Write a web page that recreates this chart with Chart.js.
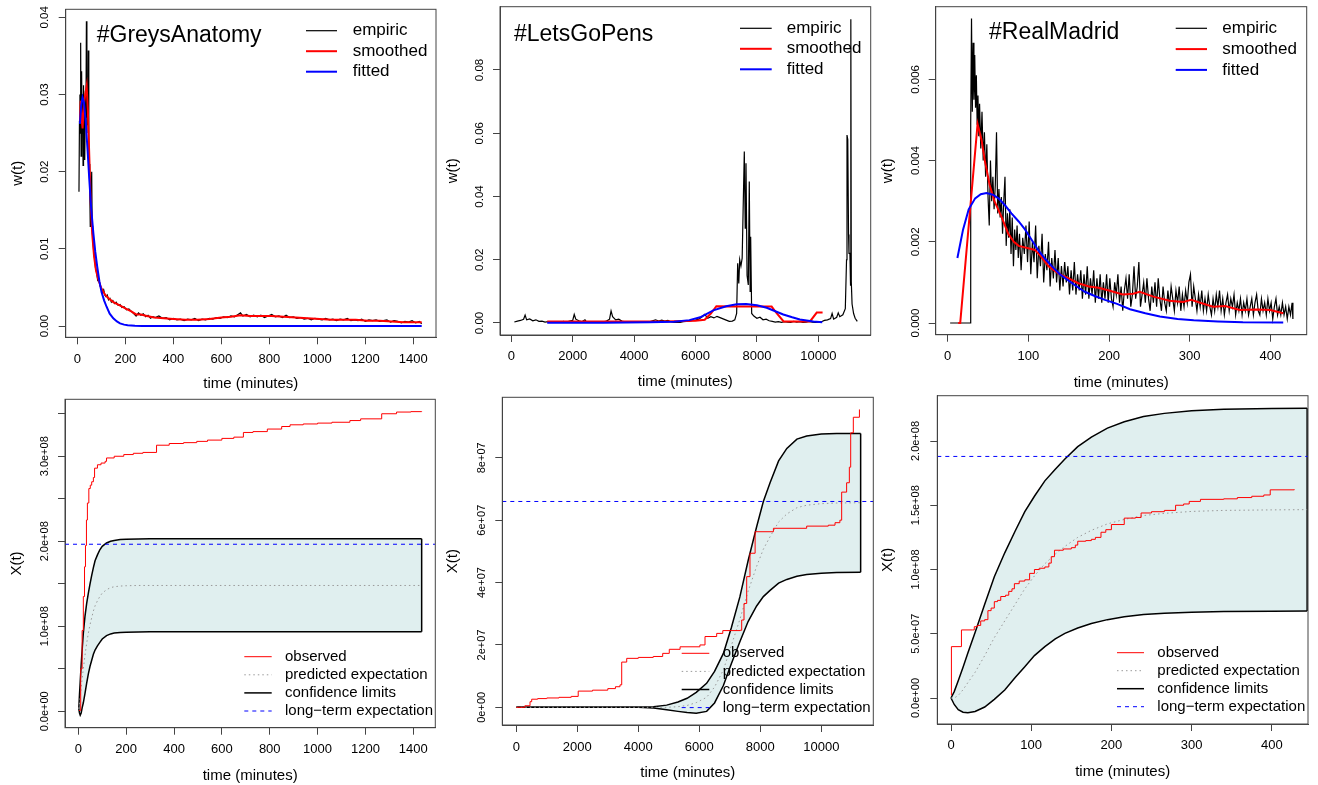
<!DOCTYPE html>
<html>
<head>
<meta charset="utf-8">
<script src="https://cdn.jsdelivr.net/npm/chart.js@4.4.1/dist/chart.umd.min.js"></script>
<style>
  body { margin: 0; background: #fff; }
  #wrap { position: relative; width: 1318px; height: 785px; overflow: hidden; }
  #wrap canvas { position: absolute; }
</style>
</head>
<body>
<div id="wrap">
  <canvas id="c1" width="440" height="392" style="left:0px;top:0px"></canvas>
  <canvas id="c2" width="438" height="392" style="left:440px;top:0px"></canvas>
  <canvas id="c3" width="440" height="392" style="left:878px;top:0px"></canvas>
  <canvas id="c4" width="440" height="395" style="left:0px;top:390px"></canvas>
  <canvas id="c5" width="438" height="395" style="left:440px;top:390px"></canvas>
  <canvas id="c6" width="440" height="395" style="left:878px;top:390px"></canvas>
</div>
<script>
// ---- data: [time (minutes), value] ----

// #GreysAnatomy, w(t)
const greysEmpiric = [[7,0.0174],[9,0.0265],[11,0.0300],[13,0.0250],[14,0.0367],[16,0.0220],[18,0.0330],[20,0.0260],[22,0.0300],[24,0.0208],[26,0.0312],[28,0.0245],[30,0.0290],[32,0.0215],[34,0.0305],[36,0.0270],[38,0.0395],[40,0.0250],[42,0.0300],[44,0.0260],[46,0.0357],[48,0.0240],[50,0.0210],[52,0.0175],[54,0.0129],[57,0.0140],[60,0.0200],[62,0.0130],[64,0.0115],[68,0.0098],[72,0.0088],[76,0.0075],[80,0.0070],[85,0.0059],[90,0.0060],[95,0.0052],[100,0.0050],[105,0.0044],[110,0.0047],[115,0.0040],[120,0.0038],[125,0.0040],[130,0.0034],[136,0.0036],[142,0.0031],[148,0.0033],[155,0.0029],[162,0.0031],[170,0.0027],[178,0.0028],[186,0.0024],[195,0.0025],[205,0.0021],[215,0.0022],[225,0.0019],[235,0.0016],[245,0.0013],[255,0.0017],[265,0.0014],[275,0.0016],[285,0.0012],[295,0.0014],[305,0.0010],[315,0.0012],[325,0.0011],[340,0.0013],[355,0.0010],[370,0.0011],[385,0.0008],[400,0.0010],[415,0.0008],[430,0.0009],[445,0.0007],[460,0.0009],[475,0.0008],[490,0.0010],[505,0.0007],[520,0.0009],[535,0.0008],[550,0.0010],[565,0.0009],[580,0.0011],[595,0.0010],[610,0.0012],[625,0.0011],[640,0.0013],[655,0.0012],[670,0.0015],[680,0.0017],[690,0.0013],[705,0.0015],[720,0.0012],[735,0.0014],[750,0.0012],[765,0.0014],[780,0.0011],[795,0.0013],[810,0.0015],[825,0.0012],[840,0.0013],[855,0.0011],[870,0.0014],[885,0.0011],[900,0.0012],[915,0.0010],[930,0.0011],[945,0.0009],[960,0.0010],[975,0.0008],[990,0.0010],[1005,0.0009],[1020,0.0008],[1035,0.0010],[1050,0.0008],[1065,0.0009],[1080,0.0007],[1095,0.0009],[1110,0.0008],[1125,0.0010],[1140,0.0007],[1155,0.0008],[1170,0.0007],[1185,0.0009],[1200,0.0006],[1215,0.0008],[1230,0.0007],[1245,0.0008],[1260,0.0006],[1275,0.0007],[1290,0.0008],[1305,0.0005],[1320,0.0007],[1335,0.0006],[1350,0.0004],[1365,0.0006],[1380,0.0005],[1395,0.0007],[1410,0.0004],[1425,0.0006],[1435,0.0003]];
const greysSmoothed = [[11,0.0265],[14,0.0292],[18,0.0270],[22,0.0256],[27,0.0285],[33,0.0300],[39,0.0311],[44,0.0280],[50,0.0220],[56,0.0160],[62,0.0120],[70,0.0090],[78,0.0072],[88,0.0060],[100,0.0049],[115,0.0041],[130,0.0036],[150,0.0031],[175,0.0027],[200,0.0023],[225,0.0019],[245,0.0015],[265,0.0015],[290,0.0013],[320,0.0011],[360,0.0010],[400,0.0009],[450,0.0008],[500,0.0008],[550,0.0009],[600,0.0011],[640,0.0012],[680,0.0014],[720,0.0013],[760,0.0013],[810,0.0013],[860,0.0012],[910,0.0011],[960,0.0010],[1010,0.0009],[1060,0.0008],[1110,0.0008],[1160,0.0008],[1210,0.0007],[1260,0.0007],[1310,0.0006],[1360,0.0005],[1400,0.0005],[1435,0.0005]];
const greysFitted = [[11,0.0262],[16,0.0285],[22,0.0296],[28,0.0290],[35,0.0265],[42,0.0232],[50,0.0190],[58,0.0152],[67,0.0120],[75,0.0096],[83,0.0077],[92,0.0058],[101,0.0044],[112,0.0033],[122,0.0025],[135,0.0016],[150,0.0010],[165,0.0006],[178,0.00035],[195,0.00018],[210,0.0001],[240,0.00003],[270,0.00001],[1435,0]];

// #LetsGoPens, w(t)
const pensEmpiric = [[100,0.0003],[200,0.0006],[300,0.0008],[400,0.0012],[450,0.0025],[500,0.0010],[600,0.0013],[700,0.0007],[800,0.0010],[900,0.0005],[1000,0.0006],[1100,0.0003],[1200,0.0004],[1300,0.0002],[1400,0.0003],[1500,0.0004],[1600,0.0002],[1700,0.0005],[1800,0.0003],[1900,0.0006],[2000,0.0008],[2050,0.0027],[2100,0.0012],[2200,0.0007],[2300,0.0004],[2400,0.0010],[2450,0.0003],[2550,0.0002],[2700,0.0003],[2850,0.0002],[3000,0.0004],[3100,0.0006],[3200,0.0012],[3250,0.0038],[3300,0.0020],[3400,0.0010],[3500,0.0012],[3600,0.0006],[3700,0.0004],[3800,0.0003],[3900,0.0004],[4000,0.0002],[4100,0.0003],[4200,0.0002],[4300,0.0004],[4400,0.0003],[4500,0.0004],[4600,0.0007],[4700,0.0010],[4800,0.0006],[4900,0.0009],[5000,0.0006],[5100,0.0008],[5200,0.0004],[5300,0.0002],[5400,0.0003],[5500,0.0002],[5600,0.0004],[5700,0.0005],[5800,0.0006],[5900,0.0008],[6000,0.0009],[6100,0.0012],[6200,0.0018],[6300,0.0027],[6400,0.0015],[6500,0.0020],[6600,0.0016],[6700,0.0021],[6800,0.0017],[6900,0.0013],[7000,0.0009],[7100,0.0005],[7200,0.0006],[7280,0.0010],[7340,0.0030],[7374,0.0189],[7410,0.0125],[7440,0.0200],[7480,0.0180],[7520,0.0205],[7550,0.0350],[7590,0.0542],[7620,0.0300],[7645,0.0505],[7680,0.0150],[7720,0.0120],[7752,0.0447],[7780,0.0100],[7797,0.0273],[7830,0.0030],[7900,0.0022],[8000,0.0015],[8100,0.0018],[8200,0.0010],[8300,0.0012],[8400,0.0007],[8500,0.0005],[8600,0.0003],[8700,0.0004],[8800,0.0002],[8900,0.0004],[9000,0.0003],[9100,0.0002],[9200,0.0005],[9300,0.0003],[9400,0.0004],[9500,0.0002],[9600,0.0003],[9700,0.0005],[9800,0.0003],[9900,0.0002],[10000,0.0003],[10100,0.0004],[10200,0.0008],[10300,0.0010],[10400,0.0014],[10450,0.0030],[10500,0.0012],[10600,0.0018],[10650,0.0032],[10700,0.0020],[10800,0.0026],[10880,0.0045],[10920,0.0200],[10935,0.0594],[10960,0.0580],[10985,0.0280],[11000,0.0220],[11030,0.0220],[11050,0.0120],[11060,0.0960],[11075,0.0130],[11100,0.0060],[11150,0.0030],[11200,0.0015],[11270,0.0005]];
const pensSmoothed = [[1170,0.0005],[3000,0.0005],[5000,0.0005],[6000,0.0007],[6300,0.0010],[6500,0.0030],[6680,0.0053],[7500,0.0052],[8480,0.0052],[8650,0.0030],[8870,0.0005],[9730,0.0005],[9950,0.0033],[10140,0.0033]];
const pensFitted = [[1170,0.0001],[3000,0.0001],[4500,0.0002],[5300,0.0004],[5800,0.0009],[6150,0.0018],[6580,0.0040],[7000,0.0053],[7340,0.0059],[7650,0.0060],[8000,0.0056],[8320,0.0048],[8600,0.0037],[8860,0.0027],[9150,0.0018],[9400,0.0011],[9840,0.0005],[10130,0.0002]];

// #RealMadrid, w(t)
const madridEmpiric = [[3,0],[28,0],[28.5,0.0049],[29.5,0.0075],[30.5,0.0052],[31.5,0.0069],[32.5,0.0055],[33.5,0.0066],[34.5,0.0053],[35.5,0.0061],[36.5,0.0049],[37.5,0.0056],[38.5,0.0046],[39.5,0.0054],[41,0.0043],[42.5,0.0052],[44,0.0040],[45.5,0.0047],[47,0.0036],[48.5,0.0044],[50,0.0031],[51.5,0.0024],[53,0.0040],[54.5,0.0030],[56,0.0036],[57.5,0.0028],[59,0.0034],[60.5,0.0047],[62,0.0027],[63.5,0.0033],[65,0.0026],[66.5,0.0031],[68,0.0022],[69.5,0.0030],[71,0.0036],[72.5,0.0019],[74,0.0027],[75.5,0.0021],[77,0.0028],[78.5,0.0017],[80,0.0026],[81.5,0.0014],[83,0.0023],[84.5,0.0018],[86,0.0024],[87.5,0.0016],[89,0.0022],[91,0.0013],[93,0.0021],[95,0.0017],[97,0.0024],[99,0.0015],[101,0.0025],[103,0.0012],[105,0.0020],[107,0.0015],[109,0.0024],[111,0.0011],[113,0.0019],[115,0.0014],[117,0.0022],[119,0.0010],[121,0.0017],[123,0.0013],[125,0.0020],[127,0.0009],[129,0.0016],[131,0.0011],[133,0.0018],[135,0.0010],[137,0.0016],[139,0.0008],[141,0.0014],[143,0.0009],[145,0.0015],[147,0.0010],[149,0.0014],[151,0.0007],[153,0.0013],[155,0.0008],[157,0.0015],[159,0.0007],[161,0.0012],[163,0.0008],[165,0.0013],[167,0.0006],[169,0.0012],[171,0.0007],[173,0.0014],[175,0.0006],[177,0.0011],[179,0.0007],[181,0.0013],[183,0.0005],[185,0.0011],[187,0.0006],[189,0.0012],[191,0.0005],[193,0.0010],[195,0.0006],[197,0.0012],[199,0.0005],[201,0.0011],[203,0.0006],[205,0.0004],[207,0.0010],[209,0.0007],[211,0.0012],[213,0.0005],[215,0.0009],[217,0.0003],[219,0.0008],[221,0.0011],[223,0.0006],[225,0.0012],[227,0.0004],[229,0.0007],[231,0.0014],[233,0.0006],[235,0.0009],[237,0.0015],[239,0.0004],[241,0.0007],[243,0.0010],[245,0.0005],[247,0.0011],[249,0.0006],[251,0.0003],[253,0.0009],[255,0.0005],[257,0.0010],[259,0.0004],[261,0.0011],[263,0.0006],[265,0.0003],[267,0.0009],[269,0.0005],[271,0.0003],[273,0.0008],[275,0.0004],[277,0.0009],[279,0.0006],[281,0.0003],[283,0.0008],[285,0.0005],[287,0.0009],[289,0.0003],[291,0.0007],[293,0.0004],[295,0.0008],[297,0.0005],[299,0.0010],[301,0.0012],[303,0.0004],[305,0.0009],[307,0.0006],[309,0.0003],[311,0.0007],[313,0.0004],[315,0.0008],[317,0.0003],[319,0.0006],[321,0.0003],[323,0.0007],[325,0.0004],[327,0.0002],[329,0.0006],[331,0.0003],[333,0.0007],[335,0.0004],[337,0.0008],[339,0.0003],[341,0.0006],[343,0.0002],[345,0.0005],[347,0.0007],[349,0.0003],[351,0.0006],[353,0.0004],[355,0.0007],[357,0.0002],[359,0.0005],[361,0.0003],[363,0.0006],[365,0.0002],[367,0.0005],[369,0.0003],[371,0.0006],[373,0.0002],[375,0.0004],[377,0.0006],[379,0.0002],[381,0.0005],[383,0.0007],[385,0.0003],[387,0.0002],[389,0.0006],[391,0.0003],[393,0.0005],[395,0.0002],[397,0.0006],[399,0.0003],[401,0.0005],[403,0.0001],[405,0.0004],[407,0.0006],[409,0.0002],[411,0.0004],[413,0.0002],[415,0.0005],[417,0.0002],[419,0.0004],[421,0.0001],[423,0.0004],[425,0.0002],[427,0.0005],[428,0.0001]];
const madridSmoothed = [[13,0],[15.5,0],[37,0.0049],[42,0.0045],[46,0.0040],[52,0.0034],[58,0.0030],[67,0.0026],[75,0.0022],[82,0.0020],[88,0.0019],[100,0.00184],[108,0.0018],[116,0.00163],[125,0.0014],[137,0.00122],[150,0.0011],[162,0.00098],[175,0.0009],[187,0.00087],[200,0.0008],[217,0.0007],[230,0.00072],[238,0.00077],[255,0.00065],[275,0.00055],[292,0.00052],[302,0.00057],[313,0.0005],[329,0.0004],[344,0.00042],[362,0.00032],[383,0.00033],[400,0.00032],[416,0.00024]];
const madridFitted = [[12,0.0016],[19,0.0023],[26,0.0028],[34,0.00307],[41,0.00317],[48,0.0032],[56,0.00316],[63,0.00307],[71,0.0029],[79,0.0027],[88,0.0025],[96,0.0023],[104,0.00205],[112,0.0018],[120,0.0016],[129,0.0014],[139,0.0012],[150,0.00104],[160,0.0009],[170,0.00077],[183,0.00066],[195,0.00057],[210,0.00047],[226,0.00034],[245,0.00024],[263,0.00016],[285,0.0001],[305,0.00007],[335,0.00004],[366,0.00002],[416,0.00001]];

// X(t): observed counts, model band on its own time grid, long-term expectation
const greysObserved = [[3,0.01e8],[10,0.5e8],[16,0.95e8],[21,1.35e8],[26,1.7e8],[30,1.95e8],[34,2.25e8],[38,2.45e8],[44,2.62e8],[50,2.66e8],[56,2.70e8],[63,2.75e8],[68,2.86e8],[80,2.90e8],[95,2.92e8],[112,2.94e8],[118,2.98e8],[150,3.00e8],[190,3.02e8],[230,3.035e8],[270,3.045e8],[327,3.13e8],[380,3.15e8],[440,3.16e8],[495,3.175e8],[540,3.19e8],[600,3.21e8],[650,3.225e8],[690,3.28e8],[730,3.29e8],[790,3.32e8],[850,3.35e8],[885,3.37e8],[940,3.38e8],[1000,3.39e8],[1060,3.40e8],[1135,3.42e8],[1180,3.44e8],[1268,3.50e8],[1330,3.52e8],[1390,3.525e8],[1435,3.53e8]];
const greysBandT = [2, 5, 8, 12, 16, 21, 28, 35, 42, 49, 56, 63, 70, 80, 90, 100, 118, 135, 150, 175, 200, 250, 300, 500, 800, 1100, 1435];
const greysPredicted = [0.03e8, 0.1e8, 0.17e8, 0.28e8, 0.38e8, 0.5e8, 0.66e8, 0.8e8, 0.92e8, 1.02e8, 1.1e8, 1.18e8, 1.24e8, 1.3e8, 1.35e8, 1.39e8, 1.43e8, 1.455e8, 1.465e8, 1.473e8, 1.477e8, 1.48e8, 1.48e8, 1.48e8, 1.48e8, 1.48e8, 1.48e8];
const greysUpper = [0.03e8, 0.2e8, 0.35e8, 0.55e8, 0.72e8, 0.92e8, 1.12e8, 1.27e8, 1.39e8, 1.5e8, 1.6e8, 1.69e8, 1.77e8, 1.84e8, 1.9e8, 1.94e8, 1.98e8, 2.0e8, 2.01e8, 2.02e8, 2.025e8, 2.028e8, 2.03e8, 2.03e8, 2.03e8, 2.03e8, 2.03e8];
const greysLower = [0.03e8, -0.02e8, -0.045e8, -0.02e8, 0.04e8, 0.1e8, 0.21e8, 0.33e8, 0.44e8, 0.53e8, 0.6e8, 0.67e8, 0.72e8, 0.77e8, 0.81e8, 0.85e8, 0.89e8, 0.91e8, 0.92e8, 0.927e8, 0.93e8, 0.933e8, 0.935e8, 0.937e8, 0.937e8, 0.937e8, 0.937e8];
const greysLongTerm = 1.965e8;

const pensObserved = [[0,0],[280,0.05e7],[450,0.18e7],[505,0.26e7],[700,0.28e7],[1000,0.3e7],[1400,0.32e7],[1800,0.35e7],[2030,0.52e7],[2500,0.55e7],[3000,0.6e7],[3250,0.66e7],[3400,0.72e7],[3456,1.45e7],[3620,1.57e7],[4000,1.6e7],[4490,1.63e7],[4800,1.73e7],[5016,1.86e7],[5370,1.94e7],[6020,2.0e7],[6187,2.27e7],[6570,2.37e7],[6770,2.46e7],[7340,2.47e7],[7390,2.8e7],[7466,3.33e7],[7554,4.19e7],[7662,4.94e7],[7830,5.63e7],[8430,5.74e7],[9520,5.81e7],[10230,5.84e7],[10450,5.92e7],[10610,6.0e7],[10668,6.9e7],[10830,7.2e7],[10920,7.7e7],[10964,8.8e7],[11050,9.3e7],[11250,9.55e7]];
const pensBandT = [0, 1000, 2000, 3000, 4000, 4500, 4930, 5300, 5600, 5900, 6240, 6500, 6790, 7050, 7330, 7600, 7880, 8100, 8320, 8600, 8870, 9200, 9520, 10000, 10500, 11290];
const pensPredicted = [0, 0, 0, 0, 0, 0, 0, 0.02e7, 0.06e7, 0.15e7, 0.32e7, 0.65e7, 1.2e7, 1.98e7, 2.82e7, 3.72e7, 4.52e7, 5.07e7, 5.47e7, 5.94e7, 6.2e7, 6.4e7, 6.48e7, 6.53e7, 6.55e7, 6.56e7];
const pensUpper = [0, 0, 0, 0, 0, 0.02e7, 0.07e7, 0.17e7, 0.29e7, 0.48e7, 0.77e7, 1.15e7, 1.73e7, 2.55e7, 3.54e7, 4.7e7, 5.79e7, 6.6e7, 7.2e7, 7.9e7, 8.3e7, 8.6e7, 8.7e7, 8.76e7, 8.78e7, 8.78e7];
const pensLower = [0, 0, 0, 0, 0, -0.02e7, -0.08e7, -0.13e7, -0.17e7, -0.19e7, -0.13e7, 0.14e7, 0.7e7, 1.4e7, 2.1e7, 2.75e7, 3.25e7, 3.55e7, 3.75e7, 3.98e7, 4.1e7, 4.2e7, 4.26e7, 4.3e7, 4.32e7, 4.33e7];
const pensLongTerm = 6.6e7;

const madridObserved = [[0,0.023e8],[0.5,0.4e8],[13,0.53e8],[27,0.53e8],[29,0.555e8],[33,0.565e8],[37,0.6e8],[42,0.61e8],[46,0.68e8],[50,0.70e8],[54,0.75e8],[58,0.76e8],[62,0.79e8],[68,0.8e8],[72,0.83e8],[76,0.85e8],[79,0.89e8],[85,0.91e8],[92,0.92e8],[98,0.97e8],[104,1.0e8],[110,1.01e8],[117,1.02e8],[122,1.05e8],[125,1.1e8],[129,1.15e8],[140,1.16e8],[150,1.17e8],[155,1.19e8],[158,1.22e8],[168,1.225e8],[175,1.235e8],[180,1.25e8],[187,1.29e8],[193,1.31e8],[200,1.35e8],[216,1.40e8],[230,1.405e8],[237,1.44e8],[250,1.45e8],[266,1.46e8],[280,1.50e8],[290,1.51e8],[297,1.53e8],[311,1.546e8],[340,1.55e8],[357,1.56e8],[375,1.57e8],[390,1.58e8],[398,1.62e8],[428,1.624e8]];
const madridBandT = [0, 4, 9, 15, 21, 30, 42, 54, 67, 80, 92, 104, 117, 130, 142, 158, 175, 195, 216, 240, 266, 300, 340, 400, 444];
const madridPredicted = [0, 0, 0.02e8, 0.065e8, 0.12e8, 0.2e8, 0.33e8, 0.47e8, 0.6e8, 0.73e8, 0.85e8, 0.95e8, 1.045e8, 1.12e8, 1.18e8, 1.25e8, 1.305e8, 1.355e8, 1.39e8, 1.42e8, 1.437e8, 1.452e8, 1.46e8, 1.464e8, 1.466e8];
const madridUpper = [0, 0.05e8, 0.135e8, 0.24e8, 0.35e8, 0.51e8, 0.73e8, 0.944e8, 1.13e8, 1.3e8, 1.45e8, 1.57e8, 1.69e8, 1.78e8, 1.86e8, 1.956e8, 2.03e8, 2.1e8, 2.15e8, 2.19e8, 2.215e8, 2.235e8, 2.247e8, 2.253e8, 2.255e8];
const madridLower = [0, -0.05e8, -0.09e8, -0.11e8, -0.115e8, -0.105e8, -0.07e8, -0.01e8, 0.062e8, 0.16e8, 0.244e8, 0.33e8, 0.40e8, 0.46e8, 0.503e8, 0.545e8, 0.58e8, 0.61e8, 0.633e8, 0.65e8, 0.66e8, 0.668e8, 0.673e8, 0.676e8, 0.677e8];
const madridLongTerm = 1.88e8;

// ---- axis ticks ----
const ticksGreysT = [0, 200, 400, 600, 800, 1000, 1200, 1400];
const labelsGreysT = ['0', '200', '400', '600', '800', '1000', '1200', '1400'];
const ticksPensT = [0, 2000, 4000, 6000, 8000, 10000];
const labelsPensT = ['0', '2000', '4000', '6000', '8000', '10000'];
const ticksMadridT = [0, 100, 200, 300, 400];
const labelsMadridT = ['0', '100', '200', '300', '400'];

const ticksGreysW = [0, 0.01, 0.02, 0.03, 0.04];
const labelsGreysW = ['0.00', '0.01', '0.02', '0.03', '0.04'];
const ticksPensW = [0, 0.02, 0.04, 0.06, 0.08];
const labelsPensW = ['0.00', '0.02', '0.04', '0.06', '0.08'];
const ticksMadridW = [0, 0.002, 0.004, 0.006];
const labelsMadridW = ['0.000', '0.002', '0.004', '0.006'];

const ticksGreysX = [0, 0.5e8, 1e8, 1.5e8, 2e8, 2.5e8, 3e8, 3.5e8];
const labelsGreysX = ['0.0e+00', '', '1.0e+08', '', '2.0e+08', '', '3.0e+08', ''];
const ticksPensX = [0, 2e7, 4e7, 6e7, 8e7];
const labelsPensX = ['0e+00', '2e+07', '4e+07', '6e+07', '8e+07'];
const ticksMadridX = [0, 0.5e8, 1e8, 1.5e8, 2e8];
const labelsMadridX = ['0.0e+00', '5.0e+07', '1.0e+08', '1.5e+08', '2.0e+08'];

// ---- drawing ----
const FONT = '"Liberation Sans", Arial, Helvetica, sans-serif';
const AXIS = '#444';
const TICK = 7;

const pts = arr => arr.map(p => ({x: p[0], y: p[1]}));

// padding that puts the centre of rotated y labels at a given x
function labelPad(labels, size, axisWidth, center) {
    const ctx = document.createElement('canvas').getContext('2d');
    ctx.font = size + 'px ' + FONT;
    const widest = Math.max(...labels.map(s => ctx.measureText(s).width));
    return axisWidth - TICK - widest / 2 - center;
}

function topSets(emp, smo, fit) {
    return [
        {label: 'empiric', data: pts(emp), borderColor: '#000000', borderWidth: 1.2, order: 3},
        {label: 'smoothed', data: pts(smo), borderColor: '#FF0000', borderWidth: 2, order: 2},
        {label: 'fitted', data: pts(fit), borderColor: '#0000FF', borderWidth: 2, order: 1}
    ];
}

function bottomSets(obs, bandT, pred, upper, lower, longTerm, xMin, xMax) {
    const zip = vals => bandT.map((t, i) => ({x: t, y: vals[i]}));
    const last = bandT.length - 1;
    return [
        {label: 'observed', data: pts(obs), borderColor: '#FF0000', borderWidth: 1, stepped: true, order: 0},
        {label: 'predicted expectation', data: zip(pred), borderColor: '#9a9a9a', borderWidth: 1, borderDash: [1.5, 3], order: 2},
        {label: 'confidence limits', data: zip(upper), borderColor: '#000000', borderWidth: 1.5, fill: 4, backgroundColor: '#E0EFEF', order: 3},
        {label: 'long\u2212term expectation', data: [{x: xMin, y: longTerm}, {x: xMax, y: longTerm}], borderColor: '#0000FF', borderWidth: 1, borderDash: [4, 4], order: 1},
        {data: zip(lower), borderColor: '#000000', borderWidth: 1.5, order: 3},
        {data: [{x: bandT[last], y: lower[last]}, {x: bandT[last], y: upper[last]}], borderColor: '#000000', borderWidth: 1.5, order: 3}
    ];
}

// box around the plot region, panel title and R-style legend
const framePlugin = {
    id: 'frame',
    afterDraw(chart, args, opts) {
        const {ctx, chartArea: a} = chart;
        ctx.save();
        ctx.strokeStyle = AXIS;
        ctx.lineWidth = 1;
        ctx.strokeRect(a.left, a.top, a.right - a.left, a.bottom - a.top);

        if (opts.title) {
            ctx.fillStyle = '#000';
            ctx.font = '23px ' + FONT;
            ctx.textAlign = 'left';
            ctx.textBaseline = 'middle';
            ctx.fillText(opts.title.text, opts.title.x, opts.title.y);
        }

        const lg = opts.legend;
        chart.data.datasets.filter(d => d.label).forEach((d, i) => {
            const y = lg.y + i * lg.dy;
            ctx.strokeStyle = d.borderColor;
            ctx.lineWidth = d.borderWidth;
            ctx.setLineDash(d.borderDash || []);
            ctx.beginPath();
            ctx.moveTo(lg.x1, y);
            ctx.lineTo(lg.x2, y);
            ctx.stroke();
            ctx.setLineDash([]);
            ctx.fillStyle = '#000';
            ctx.font = lg.size + 'px ' + FONT;
            ctx.textAlign = 'left';
            ctx.textBaseline = 'middle';
            ctx.fillText(d.label, lg.textX, y);
        });
        ctx.restore();
    }
};

const panels = [
    {id: 'c1', w: 440, h: 392, left: 65.7, top: 9.3, right: 4, bottom: 337.3,
     xMin: -48.3, xMax: 1494.6, yMin: -0.00146, yMax: 0.04104,
     xTicks: ticksGreysT, xLabels: labelsGreysT, yTicks: ticksGreysW, yLabels: labelsGreysW,
     ySize: 11.5, yCenter: 45, yTitle: 'w(t)', yTitleX: 18.3, xLabelY: 359.3, xTitleY: 384,
     title: {text: '#GreysAnatomy', x: 96.7, y: 36},
     legend: {x1: 306, x2: 337, textX: 352.7, y: 30.7, dy: 20.5, size: 17},
     datasets: topSets(greysEmpiric, greysSmoothed, greysFitted)},
    {id: 'c2', w: 438, h: 392, left: 60, top: 6.7, right: 7.3, bottom: 335,
     xMin: -368, xMax: 11707, yMin: -0.0038, yMax: 0.1,
     xTicks: ticksPensT, xLabels: labelsPensT, yTicks: ticksPensW, yLabels: labelsPensW,
     ySize: 11.5, yCenter: 40, yTitle: 'w(t)', yTitleX: 13.3, xLabelY: 356, xTitleY: 381.7,
     title: {text: '#LetsGoPens', x: 74, y: 35},
     legend: {x1: 300, x2: 331.7, textX: 346.7, y: 28.3, dy: 20.5, size: 17},
     datasets: topSets(pensEmpiric, pensSmoothed, pensFitted)},
    {id: 'c3', w: 440, h: 392, left: 57.7, top: 6.7, right: 11.3, bottom: 334.7,
     xMin: -14.9, xMax: 445.1, yMin: -0.000288, yMax: 0.00779,
     xTicks: ticksMadridT, xLabels: labelsMadridT, yTicks: ticksMadridW, yLabels: labelsMadridW,
     ySize: 11.5, yCenter: 38.3, yTitle: 'w(t)', yTitleX: 10, xLabelY: 356, xTitleY: 382.7,
     title: {text: '#RealMadrid', x: 111, y: 32.3},
     legend: {x1: 297.7, x2: 329, textX: 344.3, y: 28.3, dy: 20.8, size: 17},
     datasets: topSets(madridEmpiric, madridSmoothed, madridFitted)},
    {id: 'c4', w: 440, h: 395, left: 65, top: 9.3, right: 4.7, bottom: 337.7,
     xMin: -55.6, xMax: 1492, yMin: -1.93e7, yMax: 3.67e8,
     xTicks: ticksGreysT, xLabels: labelsGreysT, yTicks: ticksGreysX, yLabels: labelsGreysX,
     ySize: 11, yCenter: 45, yTitle: 'X(t)', yTitleX: 16.7, xLabelY: 359.3, xTitleY: 386,
     legend: {x1: 244.3, x2: 271.7, textX: 285, y: 266.7, dy: 18.1, size: 15},
     datasets: bottomSets(greysObserved, greysBandT, greysPredicted, greysUpper, greysLower, greysLongTerm, -55.6, 1492)},
    {id: 'c5', w: 438, h: 395, left: 62.3, top: 7.3, right: 4.7, bottom: 335,
     xMin: -459, xMax: 11705, yMin: -5.67e6, yMax: 9.94e7,
     xTicks: ticksPensT, xLabels: labelsPensT, yTicks: ticksPensX, yLabels: labelsPensX,
     ySize: 11, yCenter: 41.7, yTitle: 'X(t)', yTitleX: 13.3, xLabelY: 357.3, xTitleY: 383.3,
     legend: {x1: 241.7, x2: 269.3, textX: 282.7, y: 263.3, dy: 18.1, size: 15},
     datasets: bottomSets(pensObserved, pensBandT, pensPredicted, pensUpper, pensLower, pensLongTerm, -459, 11705)},
    {id: 'c6', w: 440, h: 395, left: 59.3, top: 5.7, right: 10, bottom: 334,
     xMin: -17.1, xMax: 445.1, yMin: -2.02e7, yMax: 2.3525e8,
     xTicks: ticksMadridT, xLabels: labelsMadridT, yTicks: ticksMadridX, yLabels: labelsMadridX,
     ySize: 11, yCenter: 38.3, yTitle: 'X(t)', yTitleX: 10, xLabelY: 355, xTitleY: 381.7,
     legend: {x1: 239, x2: 266, textX: 279.3, y: 262.7, dy: 18, size: 15},
     datasets: bottomSets(madridObserved, madridBandT, madridPredicted, madridUpper, madridLower, madridLongTerm, -17.1, 445.1)}
];

panels.forEach(function(p) {
    new Chart(document.getElementById(p.id), {
        type: 'line',
        data: {datasets: p.datasets},
        plugins: [framePlugin],
        options: {
            responsive: false,
            animation: false,
            devicePixelRatio: 1,
            events: [],
            layout: {padding: {left: 0, top: p.top, right: p.right, bottom: 0}},
            elements: {point: {radius: 0}, line: {tension: 0, fill: false}},
            plugins: {
                legend: {display: false},
                tooltip: {enabled: false},
                filler: {propagate: false, drawTime: 'beforeDatasetsDraw'},
                frame: {title: p.title, legend: p.legend}
            },
            scales: {
                x: {
                    type: 'linear', min: p.xMin, max: p.xMax, bounds: 'data',
                    afterBuildTicks: s => { s.ticks = p.xTicks.map(v => ({value: v})); },
                    afterFit: s => { s.height = p.h - p.bottom; s.paddingLeft = 0; s.paddingRight = 0; },
                    grid: {drawOnChartArea: false, tickLength: TICK, color: AXIS},
                    border: {color: AXIS},
                    ticks: {
                        autoSkip: false, maxRotation: 0, color: '#000',
                        padding: p.xLabelY - p.bottom - TICK - 7.8,
                        font: {family: FONT, size: 13, lineHeight: 1.2},
                        callback: (v, i) => p.xLabels[i]
                    },
                    title: {
                        display: true, text: 'time (minutes)', color: '#000',
                        font: {family: FONT, size: 15, lineHeight: 1},
                        padding: {top: 0, bottom: p.h - 7.5 - p.xTitleY}
                    }
                },
                y: {
                    type: 'linear', min: p.yMin, max: p.yMax, bounds: 'data',
                    afterBuildTicks: s => { s.ticks = p.yTicks.map(v => ({value: v})); },
                    afterFit: s => { s.width = p.left; s.paddingTop = 0; s.paddingBottom = 0; },
                    grid: {drawOnChartArea: false, tickLength: TICK, color: AXIS},
                    border: {color: AXIS},
                    ticks: {
                        minRotation: 90, maxRotation: 90, crossAlign: 'center', color: '#000',
                        padding: labelPad(p.yLabels, p.ySize, p.left, p.yCenter),
                        font: {family: FONT, size: p.ySize},
                        callback: (v, i) => p.yLabels[i]
                    },
                    title: {
                        display: true, text: p.yTitle, color: '#000',
                        font: {family: FONT, size: 15, lineHeight: 1},
                        padding: {top: p.yTitleX - 7.5, bottom: 0}
                    }
                }
            }
        }
    });
});
</script>
</body>
</html>
